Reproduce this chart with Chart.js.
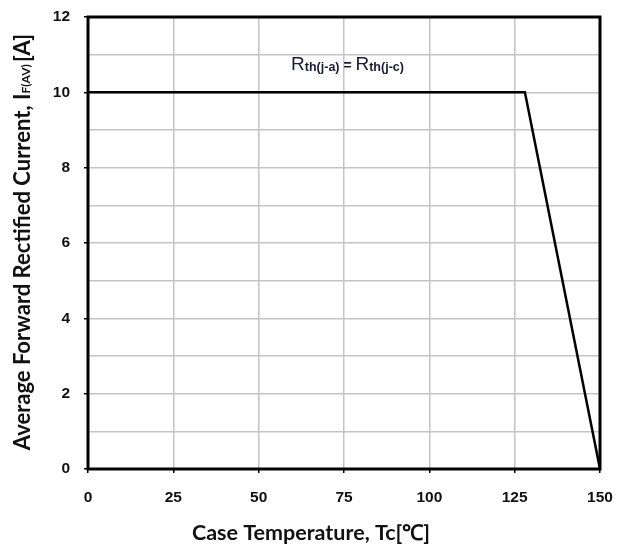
<!DOCTYPE html>
<html><head><meta charset="utf-8">
<script src="https://cdn.jsdelivr.net/npm/chart.js@4/dist/chart.umd.min.js"></script>
<style>html,body{margin:0;padding:0;background:#fff}#wrap{width:617px;height:546px}</style>
</head><body><div id="wrap"><canvas id="c" width="617" height="546"></canvas></div>
<script>
const temperature = [0, 128, 150];
const current = [10, 10, 0];
const xTicks = [0, 25, 50, 75, 100, 125, 150];
const yTicks = [0, 2, 4, 6, 8, 10, 12];
const xTitle = 'Case Temperature, Tc[\u2103]';
const yTitleMain = 'Average Forward Rectified Current, I';
const yTitleSub = 'F(AV)';
const yTitleEnd = '[A]';
const noteParts = [['R', 'th(j-a)'], ['R', 'th(j-c)']];

const tickFont = {family: '"Liberation Sans", Arial, sans-serif', size: 15.5, weight: 'bold'};
const titleFamily = 'Lato, "Open Sans", sans-serif';

const overlay = {
  id: 'overlay',
  afterDatasetsDraw(chart) {
    const {ctx, chartArea: a} = chart;
    ctx.save();
    ctx.strokeStyle = '#000'; ctx.lineWidth = 3;
    ctx.strokeRect(a.left, a.top, a.right - a.left, a.bottom - a.top);
    // annotation
    const xs = chart.scales.x, ys = chart.scales.y;
    let x = xs.getPixelForValue(59.5), y = ys.getPixelForValue(10.58);
    ctx.fillStyle = '#1b1b33'; ctx.textBaseline = 'alphabetic'; ctx.textAlign = 'left';
    noteParts.forEach((p, i) => {
      ctx.font = '19px "Liberation Sans", Arial, sans-serif';
      ctx.fillText(p[0], x, y); x += ctx.measureText(p[0]).width;
      ctx.font = 'bold 12.5px "Liberation Sans", Arial, sans-serif';
      ctx.fillText(p[1], x, y + 1); x += ctx.measureText(p[1]).width;
      if (i === 0) { ctx.font = 'bold 14px "Liberation Sans", Arial, sans-serif'; ctx.fillText(' = ', x, y); x += ctx.measureText(' = ').width; }
    });
    // x title
    ctx.fillStyle = '#111'; ctx.textAlign = 'center'; ctx.textBaseline = 'middle';
    ctx.font = 'bold 21.5px ' + titleFamily;
    ctx.fillText(xTitle, 311, 533);
    // y title
    ctx.textAlign = 'left';
    ctx.translate(23, 242);
    ctx.rotate(-Math.PI / 2);
    const big = 'bold 22px ' + titleFamily, small = 'bold 12px ' + titleFamily;
    ctx.font = big; const w1 = ctx.measureText(yTitleMain).width, w3 = ctx.measureText(yTitleEnd).width;
    ctx.font = small; const w2 = ctx.measureText(yTitleSub).width;
    let tx = -(w1 + w2 + w3 + 2) / 2;
    ctx.font = big; ctx.fillText(yTitleMain, tx, 0); tx += w1;
    ctx.font = small; ctx.fillText(yTitleSub, tx, 3); tx += w2 + 2;
    ctx.font = big; ctx.fillText(yTitleEnd, tx, 0);
    ctx.restore();
  }
};

new Chart(document.getElementById('c'), {
  type: 'line',
  data: {datasets: [{data: temperature.map((t, i) => ({x: t, y: current[i]})), borderColor: '#000', borderWidth: 2.5, pointRadius: 0, tension: 0, fill: false}]},
  options: {
    responsive: false, animation: false, devicePixelRatio: 1,
    layout: {padding: {left: 0, right: 17, top: 17, bottom: 0}},
    plugins: {legend: {display: false}, tooltip: {enabled: false}},
    scales: {
      x: {type: 'linear', min: 0, max: 150,
        afterBuildTicks(s) { s.ticks = xTicks.map(v => ({value: v})); },
        afterFit(s) { s.height = 77; s.paddingLeft = 0; s.paddingRight = 0; },
        ticks: {font: tickFont, color: '#111', padding: 15, maxRotation: 0},
        grid: {color: '#c4c4c4', lineWidth: 1.5, tickLength: 4, tickColor: '#000', drawTicks: true},
        border: {display: false}
      },
      y: {type: 'linear', min: 0, max: 12,
        afterBuildTicks(s) { const t = []; for (let v = 0; v <= 12; v++) t.push({value: v}); s.ticks = t; },
        afterFit(s) { s.width = 88; s.paddingTop = 0; s.paddingBottom = 0; },
        ticks: {font: tickFont, color: '#111', padding: 14, callback: v => yTicks.includes(v) ? String(v) : ''},
        grid: {color: '#c4c4c4', lineWidth: 1.5, tickLength: 4, tickColor: c => (c.tick && yTicks.includes(c.tick.value)) ? '#000' : 'rgba(0,0,0,0)'},
        border: {display: false}
      }
    }
  },
  plugins: [overlay]
});
</script></body></html>
